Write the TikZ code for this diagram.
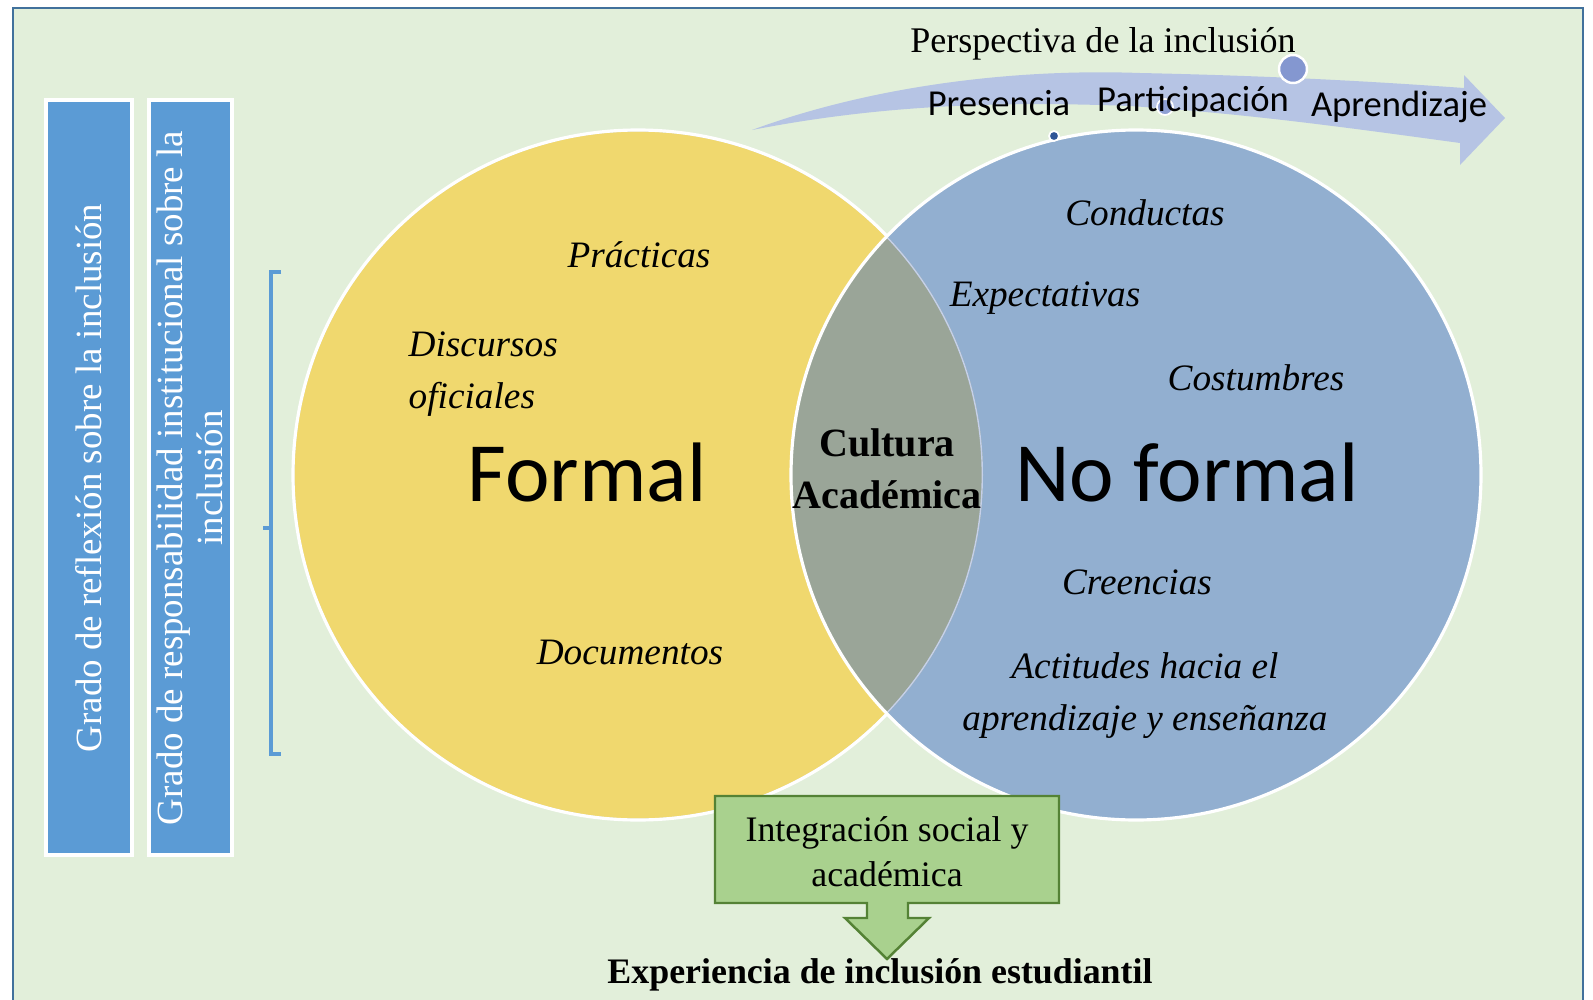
\documentclass[tikz,border=0pt]{standalone}
\usepackage{fontspec}
\setmainfont{Liberation Serif}
\newfontfamily\calib{Carlito}
\definecolor{bgG}{HTML}{E2EFDA}
\definecolor{frameB}{HTML}{41719C}
\definecolor{yel}{HTML}{F0D86E}
\definecolor{blu}{HTML}{92AFD0}
\definecolor{mid}{HTML}{9AA598}
\definecolor{rectB}{HTML}{5B9BD5}
\definecolor{grn}{HTML}{A9D18E}
\definecolor{grnD}{HTML}{548235}
\definecolor{arrB}{HTML}{B6C4E4}
\definecolor{dotB}{HTML}{8497D0}
\definecolor{dotD}{HTML}{2F5597}
\begin{document}
\begin{tikzpicture}[x=0.01cm,y=-0.01cm,
  sertxt/.style={font=\fontsize{10.2}{12}\selectfont, inner sep=0pt},
  ittxt/.style={font=\fontsize{10.6}{14.8}\selectfont\itshape, inner sep=0pt},
  caltxt/.style={font=\calib\fontsize{10.4}{12}\selectfont, inner sep=0pt},
  bigtxt/.style={font=\calib\fontsize{24}{26}\selectfont, inner sep=0pt},
  sidebox/.style={fill=rectB, draw=white, line width=1.2pt},
  sidetxt/.style={font=\fontsize{10.5}{11.4}\selectfont, text=white, rotate=90, align=center, inner sep=0pt}
]
\useasboundingbox (0,0) rectangle (1593,1000);
\fill[white] (0,0) rectangle (1593,1000);
\fill[bgG] (13,8) rectangle (1583,1000);
\draw[frameB, line width=0.6pt] (13,1002) -- (13,8) -- (1583,8) -- (1583,1002);

% side boxes
\draw[sidebox] (46,100) rectangle (132,855);
\node[sidetxt] (t1) at (89,478) {Grado de reflexión sobre la inclusión};
\draw[sidebox] (149,100) rectangle (232,855);
\node[sidetxt] (t2) at (190,478) {Grado de responsabilidad institucional sobre la\\inclusión};

% bracket
\draw[rectB, line width=1.2pt] (281,272) -- (271,272) -- (271,754) -- (281,754);
\draw[rectB, line width=1.2pt] (271,528) -- (263,528);

% circles
\fill[yel] (638,475) circle (345);
\fill[blu] (1136,475) circle (345);
\begin{scope}
  \clip (638,475) circle (345);
  \fill[mid] (1136,475) circle (345);
  \draw[arrB!80!white, line width=0.8pt] (638,475) circle (345);
\end{scope}
\begin{scope}[even odd rule]
  \clip (-10,-10) rectangle (1600,1010) (1136,475) circle (345);
  \draw[white, line width=0.9pt] (638,475) circle (345);
\end{scope}
\draw[white, line width=0.9pt] (1136,475) circle (345);

% top arrow
\fill[arrB] (752,130) .. controls (860,90) and (1000,68) .. (1140,73)
  .. controls (1280,76) and (1380,82) .. (1464,88)
  -- (1464,75) -- (1505,118) -- (1460,165) -- (1460,143)
  .. controls (1350,128) and (1250,114) .. (1130,106)
  .. controls (1000,101) and (880,105) .. (752,130) -- cycle;
\filldraw[fill=dotB, draw=white, line width=0.7pt] (1293,69) circle (14);
\filldraw[fill=dotB!80!arrB, draw=white, line width=0.5pt] (1165,107) circle (8);
\filldraw[fill=dotD, draw=white, line width=0.5pt] (1054,136) circle (5);

\node[sertxt, font=\fontsize{10.25}{12}\selectfont] (persp) at (1103,44) {Perspectiva de la inclusión};
\node[caltxt] (pres) at (999,103) {Presencia};
\node[caltxt] (part) at (1193,102) {Participación};
\node[caltxt] (apre) at (1399,107) {Aprendizaje};

% circle texts
\node[ittxt] (prac) at (639,255) {Prácticas};
\node[ittxt, align=left, anchor=west] (disc) at (408,374) {Discursos\\oficiales};
\node[bigtxt] (formal) at (587,473) {Formal};
\node[ittxt] (docs) at (630,653) {Documentos};
\node[font=\fontsize{11.4}{14.8}\selectfont\bfseries, align=center, inner sep=0pt] (cult) at (887,469) {Cultura\\Académica};
\node[bigtxt] (noformal) at (1187,473) {No formal};
\node[ittxt] (cond) at (1145,213) {Conductas};
\node[ittxt] (expe) at (1045,298) {Expectativas};
\node[ittxt] (cost) at (1256,378) {Costumbres};
\node[ittxt] (cree) at (1137,582) {Creencias};
\node[ittxt, align=center] (acti) at (1145,696) {Actitudes hacia el\\aprendizaje y enseñanza};

% green callout
\filldraw[fill=grn, draw=grnD, line width=0.7pt] (715,796) -- (1059,796) -- (1059,903) -- (908,903) -- (908,918) -- (929,918) -- (887,959) -- (845,918) -- (867,918) -- (867,903) -- (715,903) -- cycle;
\node[sertxt, align=center, font=\fontsize{10.2}{12.8}\selectfont] (integ) at (887,852) {Integración social y\\académica};
\node[font=\fontsize{10.2}{11}\selectfont\bfseries, inner sep=0pt] (exper) at (880,975) {Experiencia de inclusión estudiantil};
\end{tikzpicture}
\end{document}
